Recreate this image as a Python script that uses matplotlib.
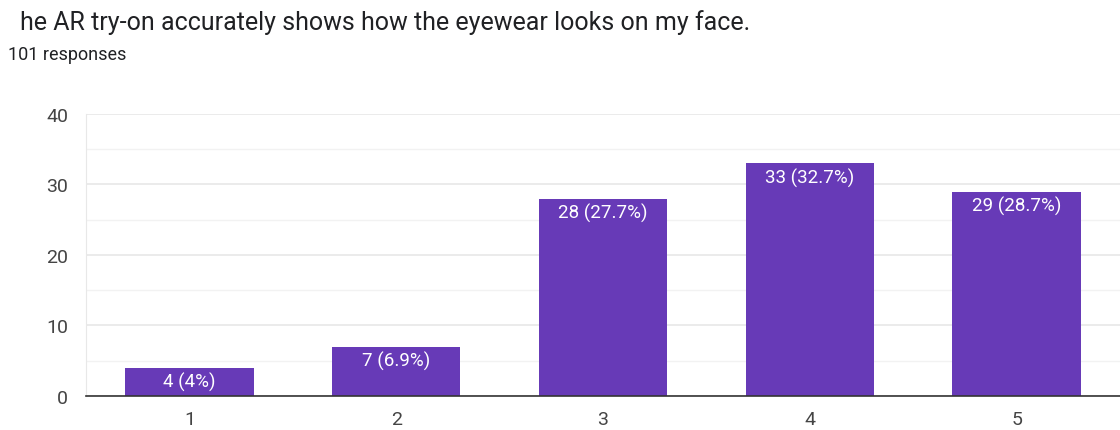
import matplotlib.pyplot as plt

plt.rcParams['font.family'] = ['Roboto', 'DejaVu Sans']

options = ['1', '2', '3', '4', '5']
counts = [4, 7, 28, 33, 29]
percents = ['4%', '6.9%', '27.7%', '32.7%', '28.7%']

fig = plt.figure(figsize=(11.2, 4.31), dpi=100)
ax = fig.add_axes([0.0768, 0.0789, 0.9232, 0.6543])

x = range(1, len(options) + 1)
bars = ax.bar(x, counts, width=0.62, color='#673ab7', zorder=3)

for bar, n, p in zip(bars, counts, percents):
    ax.annotate(f"{n} ({p})", (bar.get_x() + bar.get_width() / 2, n),
                xytext=(0, -3), textcoords='offset points',
                ha='center', va='top', color='white', fontsize=13.5, zorder=4)

ax.set_xlim(0.5, 5.5)
ax.set_ylim(0, 40)
ax.set_xticks(list(x))
ax.set_xticklabels(options)
ax.set_yticks([0, 10, 20, 30, 40])
ax.set_yticks([5, 15, 25, 35], minor=True)

ax.grid(axis='y', which='major', color='#e8e8e8', linewidth=1.2, zorder=0)
ax.grid(axis='y', which='minor', color='#f2f2f2', linewidth=1.0, zorder=0)

for side in ['top', 'right']:
    ax.spines[side].set_visible(False)
ax.spines['left'].set_color('#e8e8e8')
ax.spines['bottom'].set_color('#333333')
ax.spines['bottom'].set_linewidth(1.2)
ax.spines['bottom'].set_zorder(5)

ax.tick_params(axis='both', which='both', length=0, labelsize=14, colors='#444444')
ax.tick_params(axis='y', pad=13)
ax.tick_params(axis='x', pad=10)

fig.text(0.018, 0.948, "he AR try-on accurately shows how the eyewear looks on my face.",
         fontsize=18, color='#202124', ha='left', va='center')
fig.text(0.007, 0.872, "101 responses", fontsize=13, color='#202124', ha='left', va='center')

fig.savefig('out.png', dpi=100)
